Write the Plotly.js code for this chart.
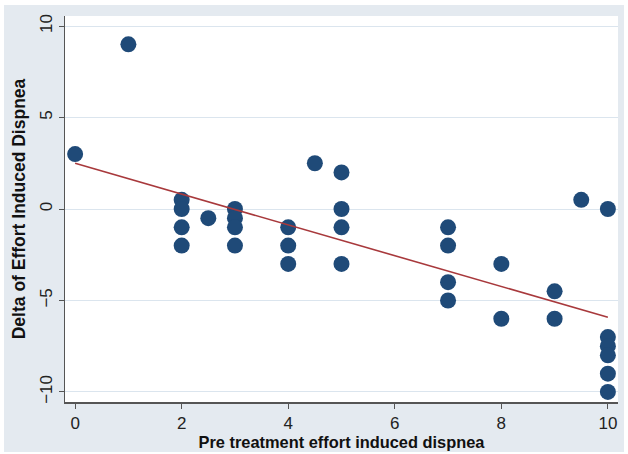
<!DOCTYPE html>
<html><head><meta charset="utf-8">
<script src="https://cdn.plot.ly/plotly-3.0.1.min.js"></script>
<style>html,body{margin:0;padding:0;background:#fff;}#chart{position:absolute;left:4px;top:5px;width:620px;height:447px;}</style>
</head><body><div id="chart"></div>
<script>
const preScore = [0, 1, 2, 2, 2, 2, 2.5, 3, 3, 3, 3, 4, 4, 4, 4.5, 5, 5, 5, 5, 7, 7, 7, 7, 8, 8, 9, 9, 9.5, 10, 10, 10, 10, 10, 10];
const deltaScore = [3, 9, 0.5, 0, -1, -2, -0.5, 0, -0.5, -1, -2, -1, -2, -3, 2.5, 2, 0, -1, -3, -1, -2, -4, -5, -3, -6, -4.5, -6, 0.5, 0, -7, -7.5, -8, -9, -10];
const fitX = [0, 10];
const fitY = [2.5, -5.92];
const xTicks = [0, 2, 4, 6, 8, 10];
const yTicks = [-10, -5, 0, 5, 10];

const traces = [
  {x: preScore, y: deltaScore, type: 'scatter', mode: 'markers',
   marker: {color: '#1f4a78', size: 16}, hoverinfo: 'skip'},
  {x: fitX, y: fitY, type: 'scatter', mode: 'lines',
   line: {color: '#a8393c', width: 1.6}, hoverinfo: 'skip'}
];
const layout = {
  width: 620, height: 447,
  margin: {l: 61, r: 6, t: 11, b: 50},
  paper_bgcolor: '#e4eaf0', plot_bgcolor: '#ffffff',
  showlegend: false,
  font: {family: 'Liberation Sans, Arial, sans-serif', color: '#222', size: 14},
  xaxis: {range: [-0.19, 10.19], tickvals: xTicks, ticks: 'outside', ticklen: 5, tickcolor: '#555',
    showgrid: false, zeroline: false, showline: true, linecolor: '#555', linewidth: 1.5,
    tickfont: {size: 17},
    title: {text: 'Pre treatment effort induced dispnea', font: {size: 16.4, color: '#111', family: 'Liberation Sans, Arial, sans-serif', weight: 'bold'}, standoff: 2}},
  yaxis: {range: [-10.55, 10.55], tickvals: yTicks, ticks: 'outside', ticklen: 5, tickcolor: '#555',
    tickangle: -90, showgrid: true, gridcolor: '#dbe5ee', gridwidth: 1, zeroline: false,
    showline: true, linecolor: '#555', linewidth: 1.5, tickfont: {size: 17},
    title: {text: 'Delta of Effort Induced Dispnea', font: {size: 17.5, color: '#111', family: 'Liberation Sans, Arial, sans-serif', weight: 'bold'}, standoff: 6}}
};
Plotly.newPlot('chart', traces, layout, {displayModeBar: false, staticPlot: true});
</script></body></html>
